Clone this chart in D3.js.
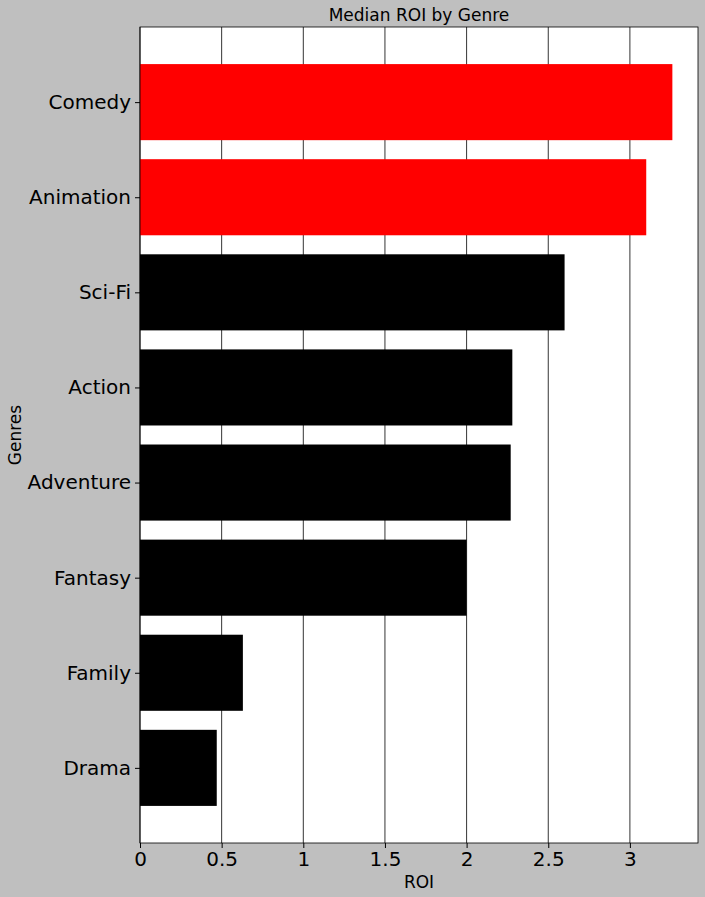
<!DOCTYPE html>
<html>
<head>
<meta charset="utf-8">
<script src="https://cdn.jsdelivr.net/npm/d3@7"></script>
<style>
  body { margin: 0; background: #bfbfbf; }
  text { font-family: "DejaVu Sans", sans-serif; }
</style>
</head>
<body>
<div id="chart"></div>
<script>
// data
var genres = ["Comedy", "Animation", "Sci-Fi", "Action", "Adventure", "Fantasy", "Family", "Drama"];
var roi = [3.26, 3.10, 2.60, 2.28, 2.27, 2.00, 0.63, 0.47];
var barColors = ["red", "red", "black", "black", "black", "black", "black", "black"];
var xTicks = [0, 0.5, 1, 1.5, 2, 2.5, 3];

var margin = {top: 27, right: 7, bottom: 54, left: 140},
    width = 705 - margin.left - margin.right,
    height = 897 - margin.top - margin.bottom;

var x = d3.scaleLinear().domain([0, 3.417]).range([0, width]);
// index scale, matplotlib-like limits
var y = d3.scaleLinear().domain([-0.79, 7.79]).range([0, height]);
var barH = 0.8 * (y(1) - y(0));

var svg = d3.select("#chart").append("svg")
    .attr("width", 705).attr("height", 897);

var g = svg.append("g")
    .attr("transform", "translate(" + margin.left + "," + margin.top + ")");

g.append("rect").attr("width", width).attr("height", height).attr("fill", "white");

// grid
g.selectAll(".grid").data(xTicks).enter().append("line")
    .attr("x1", function(d) { return x(d); }).attr("x2", function(d) { return x(d); })
    .attr("y1", 0).attr("y2", height)
    .attr("stroke", "black").attr("stroke-width", 0.8);

// bars
g.selectAll(".bar").data(genres).enter().append("rect")
    .attr("x", x(0))
    .attr("y", function(d, i) { return y(i) - barH / 2; })
    .attr("width", function(d, i) { return x(roi[i]) - x(0); })
    .attr("height", barH)
    .attr("fill", function(d, i) { return barColors[i]; });

// frame
g.append("rect").attr("width", width).attr("height", height)
    .attr("fill", "none").attr("stroke", "black").attr("stroke-width", 0.8);

// x axis
var xAxis = g.append("g")
    .attr("transform", "translate(0," + height + ")")
    .call(d3.axisBottom(x).tickValues(xTicks).tickFormat(d3.format("~g")).tickSize(5).tickPadding(4));
xAxis.select(".domain").remove();
xAxis.selectAll("text").style("font-size", "20px").attr("fill", "black");

// y axis
var yAxis = g.append("g")
    .call(d3.axisLeft(y).tickValues(d3.range(genres.length))
      .tickFormat(function(i) { return genres[i]; }).tickSize(5).tickPadding(4));
yAxis.select(".domain").remove();
yAxis.selectAll("text").style("font-size", "20px").attr("fill", "black");

// labels
svg.append("text").attr("x", margin.left + width / 2).attr("y", 21)
    .attr("text-anchor", "middle").style("font-size", "17px").text("Median ROI by Genre");
svg.append("text").attr("x", margin.left + width / 2).attr("y", 888)
    .attr("text-anchor", "middle").style("font-size", "17px").text("ROI");
svg.append("text")
    .attr("transform", "translate(21," + (margin.top + height / 2) + ") rotate(-90)")
    .attr("text-anchor", "middle").style("font-size", "17px").text("Genres");
</script>
</body>
</html>
